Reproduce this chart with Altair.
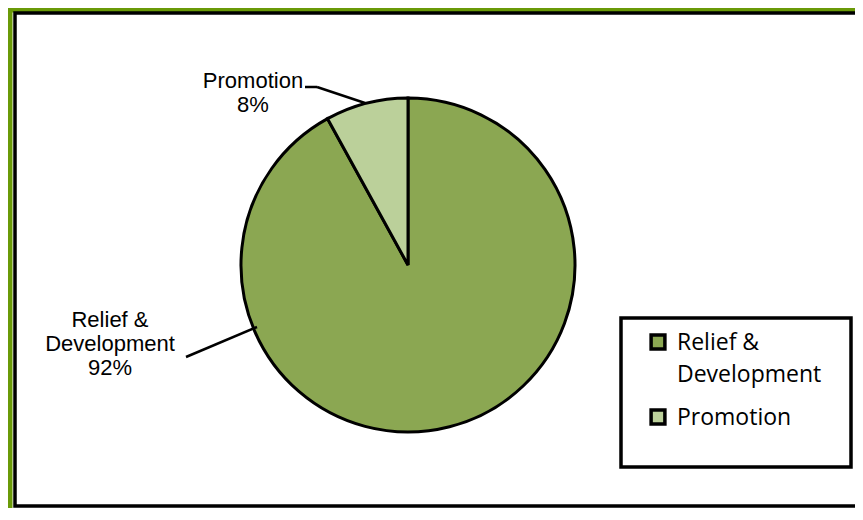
import altair as alt
import pandas as pd

# ---- data ----
categories = ["Relief & Development", "Promotion"]
shares = [92, 8]
colors = ["#8BA752", "#BBD09A"]
pie_label_lines = [["Relief &", "Development", "92%"], ["Promotion", "8%"]]
legend_label_lines = [["Relief &", "Development"], ["Promotion"]]

# ---- layout (chart coordinates, px) ----
W, H = 847, 500
CX, CY, R = 400, 257, 167
PIE_LABEL_POS = [(102, 319), (245, 80)]
LEADERS = [
    [(178, 349, 249, 319)],
    [(297, 79, 309, 79), (309, 79, 357, 95)],
]
LEG_BOX = (613, 310, 843, 459)
LEG_SQ_X = 650
LEG_SQ_Y = [334, 409]
LEG_TXT_X = 669
LEG_TXT_Y = [342, 417]

df = pd.DataFrame({"category": categories, "share": shares, "order": list(range(len(categories)))})
color_scale = alt.Scale(domain=categories, range=colors)
one = alt.Data(values=[{"a": 1}])

layers = []

# outer green frame and black inner frame
layers.append(
    alt.Chart(one).mark_rect(fill="transparent", stroke="#6A9A08", strokeWidth=5).encode(
        x=alt.value(2), y=alt.value(2), x2=alt.value(W + 20), y2=alt.value(H + 20)
    )
)
layers.append(
    alt.Chart(one).mark_rect(fill="transparent", stroke="black", strokeWidth=3.5).encode(
        x=alt.value(7), y=alt.value(5), x2=alt.value(W + 20), y2=alt.value(H - 2)
    )
)

# pie
layers.append(
    alt.Chart(df).mark_arc(outerRadius=R, stroke="black", strokeWidth=3).encode(
        theta=alt.Theta("share:Q", stack=True),
        order=alt.Order("order:Q"),
        color=alt.Color("category:N", scale=color_scale, legend=None),
        x=alt.value(CX),
        y=alt.value(CY),
    )
)

# pie labels and leader lines
for i, cat in enumerate(categories):
    lx, ly = PIE_LABEL_POS[i]
    layers.append(
        alt.Chart(one).mark_text(
            font="Liberation Sans", fontSize=22, lineHeight=24, align="center",
            baseline="alphabetic", color="black"
        ).encode(x=alt.value(lx), y=alt.value(ly), text=alt.value(pie_label_lines[i]))
    )
    for (x1, y1, x2, y2) in LEADERS[i]:
        layers.append(
            alt.Chart(one).mark_rule(color="black", strokeWidth=2.5).encode(
                x=alt.value(x1), y=alt.value(y1), x2=alt.value(x2), y2=alt.value(y2)
            )
        )

# legend box
bx1, by1, bx2, by2 = LEG_BOX
layers.append(
    alt.Chart(one).mark_rect(fill="white", stroke="black", strokeWidth=3.5).encode(
        x=alt.value(bx1), y=alt.value(by1), x2=alt.value(bx2), y2=alt.value(by2)
    )
)
for i, cat in enumerate(categories):
    layers.append(
        alt.Chart(df).transform_filter(alt.datum.category == cat).mark_square(
            size=190, stroke="black", strokeWidth=3.5, opacity=1
        ).encode(
            color=alt.Color("category:N", scale=color_scale, legend=None),
            x=alt.value(LEG_SQ_X), y=alt.value(LEG_SQ_Y[i]),
        )
    )
    layers.append(
        alt.Chart(one).mark_text(
            font="Open Sans", fontSize=23, lineHeight=31.7, align="left",
            baseline="alphabetic", color="black"
        ).encode(x=alt.value(LEG_TXT_X), y=alt.value(LEG_TXT_Y[i]), text=alt.value(legend_label_lines[i]))
    )

chart = alt.layer(*layers).properties(
    width=W, height=H, autosize="none", padding=0, background="white"
).configure_view(stroke=None)

chart.save("out.html", embed_options={"renderer": "svg", "actions": False})
